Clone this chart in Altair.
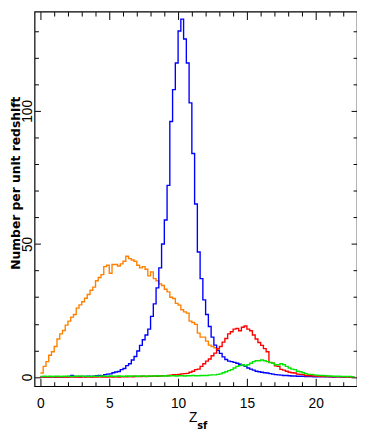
import altair as alt
import pandas as pd

# ---- data (histogram bins of width 0.2 starting at z = 0) ----
BIN_WIDTH = 0.2
X_START = 0.0

blue = [
    0.0, 0.0, 0.0, 0.0, 0.1, 0.0, 0.1, 0.0, 0.1, 0.1,
    0.2, 0.6, 0.2, 0.2, 0.1, 0.2, 0.2, 0.3, 0.2, 0.3,
    0.5, 0.6, 0.5, 0.9, 1.1, 1.2, 1.6, 1.9, 2.1, 2.8,
    3.2, 4.3, 5.0, 6.4, 7.7, 9.8, 11.9, 14.0, 15.8, 18.0,
    22.8, 27.5, 33.5, 41.0, 50.0, 59.0, 72.0, 96.0, 108.0, 118.0,
    130.0, 134.5, 127.0, 118.0, 103.0, 84.0, 65.0, 47.0, 37.0, 29.0,
    23.5, 19.0, 15.0, 12.0, 10.0, 8.9, 7.6, 6.6, 6.0, 5.8,
    5.5, 5.2, 4.8, 4.5, 4.0, 3.4, 3.0, 2.6, 2.2, 2.0,
    1.8, 1.6, 1.5, 1.3, 1.1, 0.9, 0.8, 0.7, 0.6, 0.6,
    0.5, 0.4, 0.4, 0.3, 0.3, 0.3, 0.2, 0.2, 0.2, 0.1,
    0.1, 0.1, 0.2, 0.1, 0.1, 0.1, 0.0, 0.1, 0.1, 0.0,
    0.0, 0.1, 0.0, 0.0,
]

orange = [
    1.5, 4.0, 5.8, 8.2, 9.5, 11.5, 14.3, 16.2, 17.5, 19.5,
    21.0, 22.5, 23.5, 25.9, 27.1, 28.3, 29.6, 31.0, 32.6, 33.8,
    36.2, 37.4, 38.5, 41.5, 42.0, 39.0, 42.3, 42.3, 41.7, 42.5,
    43.5, 45.4, 44.5, 44.0, 43.5, 42.0, 41.0, 41.5, 40.5, 38.0,
    39.5, 37.0, 36.2, 35.0, 34.4, 33.0, 32.0, 30.0, 29.5, 27.7,
    27.0, 25.3, 24.5, 24.0, 21.0, 20.5, 19.8, 16.5, 15.0, 15.0,
    13.5, 12.0, 11.5, 11.0, 10.2,
]

red = [
    0.0, 0.0, 0.0, 0.0, 0.0, 0.0, 0.0, 0.0, 0.0, 0.0,
    0.0, 0.0, 0.0, 0.0, 0.0, 0.1, 0.0, 0.0, 0.0, 0.0,
    0.0, 0.1, 0.0, 0.0, 0.0, 0.1, 0.0, 0.1, 0.0, 0.1,
    0.1, 0.1, 0.2, 0.1, 0.2, 0.2, 0.2, 0.3, 0.2, 0.3,
    0.3, 0.4, 0.3, 0.4, 0.5, 0.5, 0.6, 0.7, 0.9, 0.9,
    1.0, 1.2, 1.3, 1.4, 1.8, 2.2, 2.8, 3.0, 4.0, 5.0,
    6.0, 6.8, 8.0, 9.0, 10.7, 11.5, 13.1, 14.5, 16.2, 17.0,
    18.0, 18.3, 17.4, 18.7, 19.2, 18.0, 17.4, 15.8, 14.3, 13.0,
    11.9, 10.7, 9.5, 5.5, 5.2, 4.2, 4.0, 2.9, 2.6, 2.2,
    1.8, 1.6, 1.5, 1.1, 1.0, 0.9, 0.6, 0.5, 0.5, 0.4,
    0.3, 0.3, 0.2, 0.2, 0.2, 0.1, 0.1, 0.1, 0.1, 0.1,
    0.0, 0.1, 0.0, 0.0,
]

green = [
    0.2, 0.3, 0.2, 0.3, 0.2, 0.3, 0.3, 0.2, 0.3, 0.3,
    0.3, 0.2, 0.3, 0.3, 0.4, 0.3, 0.3, 0.2, 0.3, 0.3,
    0.3, 0.3, 0.4, 0.3, 0.3, 0.4, 0.3, 0.3, 0.4, 0.3,
    0.3, 0.4, 0.3, 0.4, 0.4, 0.3, 0.4, 0.4, 0.3, 0.4,
    0.4, 0.4, 0.5, 0.4, 0.4, 0.5, 0.4, 0.5, 0.5, 0.4,
    0.5, 0.5, 0.4, 0.5, 0.5, 0.6, 0.5, 0.5, 0.6, 0.6,
    0.6, 0.7, 0.8, 0.8, 1.0, 1.2, 1.6, 2.0, 2.4, 2.8,
    3.4, 4.0, 4.3, 4.6, 4.2, 4.6, 5.2, 5.8, 6.1, 6.1,
    6.4, 6.1, 5.8, 5.4, 5.2, 4.6, 4.6, 5.0, 4.6, 4.0,
    3.4, 3.0, 2.8, 2.2, 2.0, 1.6, 1.3, 1.0, 1.0, 0.8,
    0.7, 0.6, 0.6, 0.5, 0.4, 0.4, 0.3, 0.3, 0.3, 0.2,
    0.2, 0.2, 0.2, 0.1,
]

SERIES = [
    ("orange", orange, "#ff8000"),
    ("blue", blue, "#0000ff"),
    ("red", red, "#ff0000"),
    ("green", green, "#00e600"),
]

X_MAJOR = [0, 5, 10, 15, 20]
X_MINOR = [v for v in range(0, 23) if v % 5]
Y_MAJOR = [0, 50, 100]
Y_MINOR = [10, 20, 30, 40, 60, 70, 80, 90, 110, 120, 130]
X_DOMAIN = [-0.43, 23.0]
Y_DOMAIN = [-3.43, 137.3]

W, H = 328, 381
TICK_FONT = "Liberation Sans Narrow, Liberation Sans, sans-serif"


def step_frame(name, values):
    xs = [round(X_START + i * BIN_WIDTH, 3) for i in range(len(values) + 1)]
    ys = list(values) + [values[-1]]
    return pd.DataFrame({"z": xs, "n": ys, "series": name})


xscale = alt.Scale(domain=X_DOMAIN, nice=False, zero=False)
yscale = alt.Scale(domain=Y_DOMAIN, nice=False, zero=False)

layers = []
for name, vals, col in SERIES:
    layers.append(
        alt.Chart(step_frame(name, vals))
        .mark_line(interpolate="step-after", color=col, strokeWidth=1.4, clip=True)
        .encode(
            x=alt.X("z:Q", scale=xscale, axis=None),
            y=alt.Y("n:Q", scale=yscale, axis=None),
        )
    )

base_df = step_frame("blue", blue)


def axis_layer(xaxis, yaxis):
    return (
        alt.Chart(base_df)
        .mark_point(opacity=0)
        .encode(
            x=alt.X("z:Q", scale=xscale, axis=xaxis),
            y=alt.Y("n:Q", scale=yscale, axis=yaxis),
        )
    )


def tick_axis(orient, values, size, offset, **kw):
    return alt.Axis(
        orient=orient, values=values, offset=offset, ticks=True, tickSize=size,
        tickWidth=1, tickColor="black", labels=False, domain=False, grid=False,
        **kw,
    )


# labels + titles
lab_x = alt.Axis(
    orient="bottom", values=X_MAJOR, ticks=False, tickSize=0, domain=False, grid=False,
    labelFont=TICK_FONT, labelFontSize=14, labelColor="black", labelPadding=11,
    labelFlush=False, labelOverlap=False, format="d",
    title="Z", titleFont="Liberation Sans", titleFontSize=14, titleFontWeight="normal",
    titleColor="black", titleX=161, titleY=36, titleAlign="center", titleBaseline="alphabetic",
)
lab_y = alt.Axis(
    orient="left", values=Y_MAJOR, ticks=False, tickSize=0, domain=False, grid=False,
    labelFont=TICK_FONT, labelFontSize=14, labelColor="black", labelPadding=7.5,
    labelAngle=270, labelAlign="center", labelBaseline="middle",
    labelFlush=False, labelOverlap=False, format="d",
    title="Number per unit redshift", titleFont="DejaVu Sans", titleFontSize=12.5,
    titleFontWeight="bold", titleColor="black", titleAngle=270, titleX=-19.5, titleY=174,
    titleAlign="center", titleBaseline="middle",
)

layers.append(axis_layer(lab_x, lab_y))
# inward ticks at bottom and left (major) + subscript "sf"
layers.append(axis_layer(
    tick_axis("top", X_MAJOR, 8, -H, title="sf", titleFont="DejaVu Sans", titleFontSize=10,
              titleFontWeight="bold", titleColor="black", titleX=165, titleY=43,
              titleAlign="left", titleBaseline="alphabetic"),
    tick_axis("right", Y_MAJOR, 6, -W, title=None),
))
# minor bottom/left
layers.append(axis_layer(
    tick_axis("top", X_MINOR, 4.5, -H, title=None),
    tick_axis("right", Y_MINOR, 4, -W, title=None),
))
# major top/right
layers.append(axis_layer(
    tick_axis("bottom", X_MAJOR, 8, -H, title=None),
    tick_axis("left", Y_MAJOR, 6, -W, title=None),
))
# minor top/right
layers.append(axis_layer(
    tick_axis("bottom", X_MINOR, 4.5, -H, title=None),
    tick_axis("left", Y_MINOR, 4, -W, title=None),
))

chart = (
    alt.layer(*layers)
    .resolve_axis(x="independent", y="independent")
    .properties(
        width=W, height=H,
        autosize=alt.AutoSizeParams(type="none"),
        padding={"left": 27, "top": 0, "right": 0, "bottom": 47},
        background="white",
    )
    .configure_view(stroke="black", strokeWidth=1.2)
)

chart.save("out.html", embed_options={"renderer": "svg", "actions": False})
